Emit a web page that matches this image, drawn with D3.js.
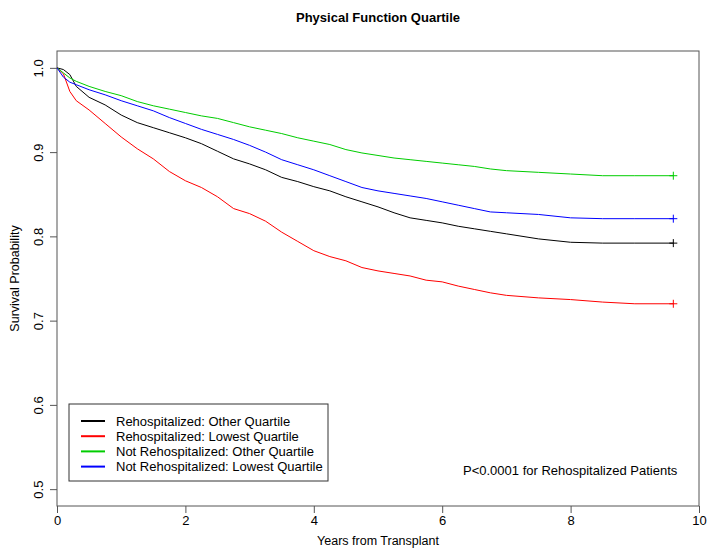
<!DOCTYPE html>
<html>
<head>
<meta charset="utf-8">
<script src="https://cdn.jsdelivr.net/npm/d3@7"></script>
<style>
  body { margin: 0; background: #fff; }
  text { font-family: 'Liberation Sans', Arial, sans-serif; }
</style>
</head>
<body>
<div id="chart"></div>
<script>
// years from transplant at which the curves were read
const years = [0, 0.1, 0.2, 0.3, 0.5, 0.75, 1, 1.25, 1.5, 1.75, 2, 2.25, 2.5, 2.75, 3, 3.25, 3.5, 3.75,
  4, 4.25, 4.5, 4.75, 5, 5.25, 5.5, 5.75, 6, 6.25, 6.5, 6.75, 7, 7.5, 8, 8.5, 9, 9.6]

const rehospOther = [1.0, 0.998, 0.992, 0.978, 0.965, 0.956, 0.944, 0.935, 0.929, 0.923, 0.917, 0.910, 0.901, 0.892,
  0.886, 0.879, 0.870, 0.865, 0.859, 0.854, 0.847, 0.841, 0.835, 0.828, 0.822, 0.819, 0.816, 0.812, 0.809, 0.806,
  0.803, 0.797, 0.793, 0.792, 0.792, 0.792]
const rehospLowest = [1.0, 0.993, 0.972, 0.961, 0.950, 0.934, 0.918, 0.904, 0.892, 0.877, 0.866, 0.858, 0.847, 0.833,
  0.827, 0.818, 0.805, 0.794, 0.783, 0.776, 0.771, 0.763, 0.759, 0.756, 0.753, 0.748, 0.746, 0.741, 0.737, 0.733,
  0.730, 0.727, 0.725, 0.722, 0.720, 0.720]
const notRehospOther = [1.0, 0.994, 0.988, 0.984, 0.978, 0.972, 0.967, 0.960, 0.955, 0.951, 0.947, 0.943, 0.940, 0.935,
  0.930, 0.926, 0.922, 0.917, 0.913, 0.909, 0.903, 0.899, 0.896, 0.893, 0.891, 0.889, 0.887, 0.885, 0.883, 0.880,
  0.878, 0.876, 0.874, 0.872, 0.872, 0.872]
const notRehospLowest = [1.0, 0.989, 0.983, 0.980, 0.974, 0.968, 0.961, 0.955, 0.949, 0.941, 0.934, 0.927, 0.921, 0.915,
  0.908, 0.900, 0.891, 0.885, 0.879, 0.872, 0.865, 0.858, 0.854, 0.851, 0.848, 0.845, 0.841, 0.837, 0.833, 0.829,
  0.828, 0.826, 0.822, 0.821, 0.821, 0.821]

const seriesNames = ['Rehospitalized: Other Quartile', 'Rehospitalized: Lowest Quartile',
  'Not Rehospitalized: Other Quartile', 'Not Rehospitalized: Lowest Quartile']
const seriesColors = ['#000000', '#FF0000', '#00CD00', '#0000FF']
const xTicks = [0, 2, 4, 6, 8, 10]
const yTicks = [0.5, 0.6, 0.7, 0.8, 0.9, 1.0]

const WIDTH = 707
const HEIGHT = 554
const MARGIN = { LEFT: 57, RIGHT: 8, TOP: 51, BOTTOM: 48 }

const svg = d3.select('#chart').append('svg')
  .attr('width', WIDTH)
  .attr('height', HEIGHT)

const x = d3.scaleLinear().domain([0, 10]).range([MARGIN.LEFT, WIDTH - MARGIN.RIGHT])
const y = d3.scaleLinear().domain([0.48, 1.02]).range([HEIGHT - MARGIN.BOTTOM, MARGIN.TOP])

// title
svg.append('text')
  .attr('x', (x.range()[0] + x.range()[1]) / 2)
  .attr('y', 22)
  .attr('text-anchor', 'middle')
  .style('font-size', '13px')
  .style('font-weight', 'bold')
  .text('Physical Function Quartile')

// x axis
const xAxis = svg.append('g')
  .attr('transform', `translate(0, ${y.range()[0]})`)
  .call(d3.axisBottom(x).tickValues(xTicks).tickSize(7).tickFormat(d3.format('d')))
xAxis.select('.domain').remove()
xAxis.selectAll('line').attr('stroke', '#555')
xAxis.selectAll('text').attr('y', 10).attr('dy', '0.71em').style('font-size', '13px')

// y axis, labels turned like R does
const yAxis = svg.append('g')
  .attr('transform', `translate(${x.range()[0]}, 0)`)
  .call(d3.axisLeft(y).tickValues(yTicks).tickSize(7).tickFormat(d3.format('.1f')))
yAxis.select('.domain').remove()
yAxis.selectAll('line').attr('stroke', '#555')
yAxis.selectAll('text')
  .attr('x', 0).attr('dy', 0)
  .attr('text-anchor', 'middle')
  .attr('transform', 'translate(-14, 0) rotate(-90)')
  .style('font-size', '13px')

// box
svg.append('rect')
  .attr('x', x.range()[0])
  .attr('y', y.range()[1])
  .attr('width', x.range()[1] - x.range()[0])
  .attr('height', y.range()[0] - y.range()[1])
  .attr('fill', 'none')
  .attr('stroke', '#555')

// axis titles
svg.append('text')
  .attr('x', (x.range()[0] + x.range()[1]) / 2)
  .attr('y', 545)
  .attr('text-anchor', 'middle')
  .style('font-size', '12.5px')
  .text('Years from Transplant')

svg.append('text')
  .attr('transform', `translate(19, ${(y.range()[0] + y.range()[1]) / 2}) rotate(-90)`)
  .attr('text-anchor', 'middle')
  .style('font-size', '12.5px')
  .text('Survival Probability')

// curves
const series = [rehospOther, rehospLowest, notRehospOther, notRehospLowest]
const line = d3.line()
  .x((d, i) => x(years[i]))
  .y(d => y(d))

const curves = svg.append('g')
series.forEach((vals, i) => {
  curves.append('path')
    .attr('d', line(vals))
    .attr('fill', 'none')
    .attr('stroke', seriesColors[i])
    .attr('stroke-width', 1)

  // censor mark at the last follow-up time
  const cx = x(years[years.length - 1])
  const cy = y(vals[vals.length - 1])
  curves.append('path')
    .attr('d', `M${cx - 4},${cy}H${cx + 4}M${cx},${cy - 4}V${cy + 4}`)
    .attr('stroke', seriesColors[i])
    .attr('stroke-width', 1)
})

// legend
const legend = svg.append('g').attr('transform', 'translate(69, 404)')
legend.append('rect')
  .attr('width', 259)
  .attr('height', 77)
  .attr('fill', 'white')
  .attr('stroke', '#333')

seriesNames.forEach((name, i) => {
  const ly = 17 + i * 15.2
  legend.append('line')
    .attr('x1', 12).attr('x2', 36)
    .attr('y1', ly).attr('y2', ly)
    .attr('stroke', seriesColors[i])
    .attr('stroke-width', 2)
  legend.append('text')
    .attr('x', 47)
    .attr('y', ly + 4.5)
    .style('font-size', '13px')
    .text(name)
})

svg.append('text')
  .attr('x', 463)
  .attr('y', 475)
  .style('font-size', '13px')
  .text('P<0.0001 for Rehospitalized Patients')
</script>
</body>
</html>
